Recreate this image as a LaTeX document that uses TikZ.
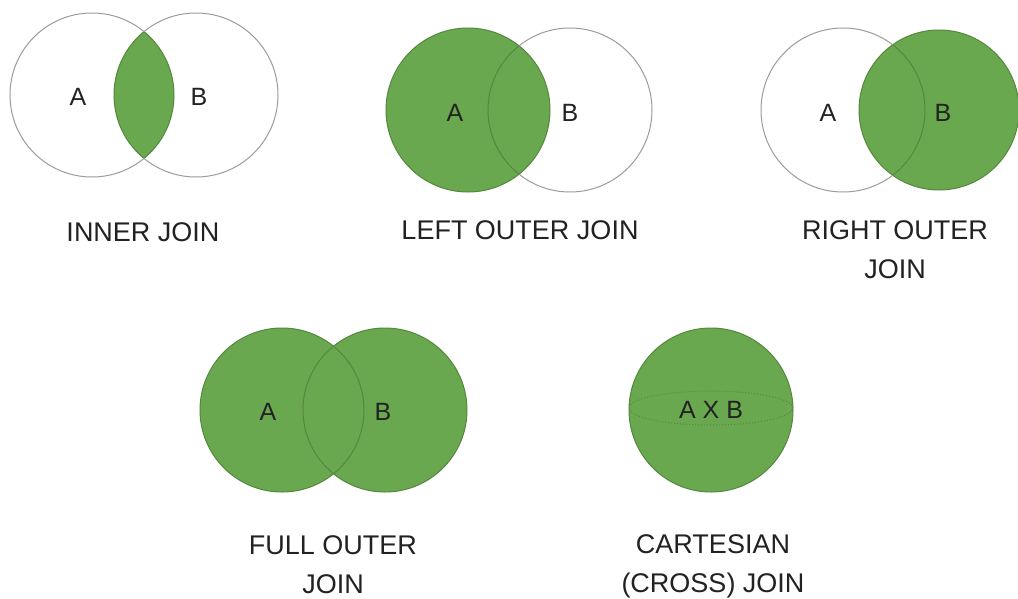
\documentclass[tikz,border=0pt]{standalone}
\usepackage{fontspec}
\setmainfont{Liberation Sans}
\definecolor{joingreen}{HTML}{6AA84F}
\definecolor{edgegreen}{HTML}{55873F}
\definecolor{ringgray}{HTML}{9C9C9C}
\definecolor{inkgray}{HTML}{222222}
\begin{document}
\begin{tikzpicture}[x=1pt,y=-1pt,
  ring/.style={draw=ringgray,line width=1pt},
  greenring/.style={draw=edgegreen,line width=1pt},
  blob/.style={fill=joingreen},
  setlabel/.style={text=inkgray,font=\fontsize{25}{30}\selectfont,inner sep=0pt},
  caption/.style={text=inkgray,font=\fontsize{27}{39}\selectfont,align=center,inner sep=0pt}]
\useasboundingbox[fill=white] (0,0) rectangle (1018,598);
\def\R{82}
% ---------- INNER JOIN
\coordinate (ia) at (92,95);
\coordinate (ib) at (196,95);
\begin{scope}
  \clip (ia) circle (\R);
  \fill[blob] (ib) circle (\R);
\end{scope}
\begin{scope}
  \clip (ia) circle (\R);
  \draw[greenring] (ib) circle (\R);
\end{scope}
\begin{scope}
  \clip (ib) circle (\R);
  \draw[greenring] (ia) circle (\R);
\end{scope}
\begin{scope}[even odd rule]
  \clip (ib) circle (\R) (-10,-10) rectangle (1030,610);
  \draw[ring] (ia) circle (\R);
\end{scope}
\begin{scope}[even odd rule]
  \clip (ia) circle (\R) (-10,-10) rectangle (1030,610);
  \draw[ring] (ib) circle (\R);
\end{scope}
\node[setlabel] (ilA) at (78,97) {A};
\node[setlabel] (ilB) at (199,97) {B};
\node[caption] (icap) at (143,232) {INNER JOIN};
% ---------- LEFT OUTER JOIN
\coordinate (la) at (468,110);
\coordinate (lb) at (570,110);
\fill[blob] (la) circle (\R);
\draw[greenring] (la) circle (\R);
\begin{scope}
  \clip (la) circle (\R);
  \draw[greenring] (lb) circle (\R);
\end{scope}
\begin{scope}[even odd rule]
  \clip (la) circle (\R) (-10,-10) rectangle (1030,610);
  \draw[ring] (lb) circle (\R);
\end{scope}
\node[setlabel] (llA) at (455,113) {A};
\node[setlabel] (llB) at (570,113) {B};
\node[caption] (lcap) at (520,230) {LEFT OUTER JOIN};
% ---------- RIGHT OUTER JOIN
\coordinate (ra) at (843,110);
\coordinate (rb) at (939,110);
\fill[blob] (rb) circle (80);
\draw[greenring] (rb) circle (80);
\begin{scope}
  \clip (rb) circle (80);
  \draw[greenring] (ra) circle (\R);
\end{scope}
\begin{scope}[even odd rule]
  \clip (rb) circle (80) (-10,-10) rectangle (1030,610);
  \draw[ring] (ra) circle (\R);
\end{scope}
\node[setlabel] (rlA) at (828,113) {A};
\node[setlabel] (rlB) at (943,113) {B};
\node[caption] (rcap) at (895,250) {RIGHT OUTER\\JOIN};
% ---------- FULL OUTER JOIN
\coordinate (fa) at (282,410);
\coordinate (fb) at (385,410);
\fill[blob] (fa) circle (\R);
\fill[blob] (fb) circle (\R);
\draw[greenring] (fa) circle (\R);
\draw[greenring] (fb) circle (\R);
\node[setlabel] (flA) at (268,412) {A};
\node[setlabel] (flB) at (383,412) {B};
\node[caption] (fcap) at (333,565) {FULL OUTER\\JOIN};
% ---------- CARTESIAN JOIN
\coordinate (ca) at (711,410);
\fill[blob] (ca) circle (\R);
\draw[greenring] (ca) circle (\R);
\draw[edgegreen,dotted,line width=1pt] (711,408) ellipse (\R pt and 17pt);
\node[setlabel] (clAB) at (711,410) {A X B};
\node[caption] (ccap) at (713,566) {CARTESIAN\\(CROSS) JOIN};
\end{tikzpicture}
\end{document}
